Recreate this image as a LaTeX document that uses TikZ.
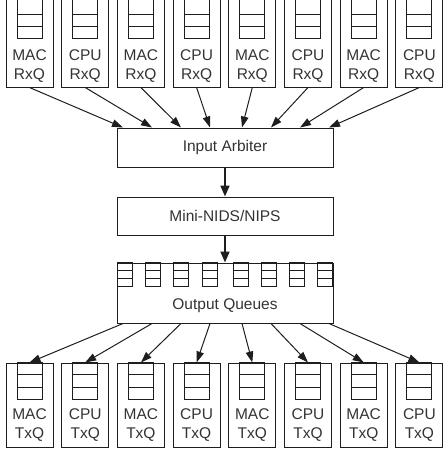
\documentclass[tikz,border=0pt]{standalone}
\usepackage{fontspec}
\setmainfont{Liberation Sans}
\usepackage{tikz}
\usetikzlibrary{calc,arrows.meta}
\definecolor{ink}{HTML}{1E1E1E}
\definecolor{txt}{HTML}{333333}
\tikzset{
  qBox/.style={draw=ink, line width=1pt, minimum width=47pt, inner sep=0pt},
  blkBox/.style={draw=ink, line width=1pt, minimum width=216pt, inner sep=0pt,
    text=txt, font=\fontsize{15.5}{19}\selectfont},
  qLbl/.style={text=txt, font=\fontsize{15.5}{19}\selectfont, align=center, inner sep=0pt},
  cellLine/.style={draw=ink, line width=1pt},
  fanArrow/.style={draw=ink, line width=1pt, -{Triangle[length=11pt,width=7.5pt]}},
  mainArrow/.style={draw=ink, line width=1.8pt, -{Triangle[length=11pt,width=9pt]}},
}

\begin{document}
\begin{tikzpicture}[x=1pt, y=1pt]
  \useasboundingbox (0,0) rectangle (443,-451);

  % receive queues along the top
  \foreach \k/\src in {0/MAC,1/CPU,2/MAC,3/CPU,4/MAC,5/CPU,6/MAC,7/CPU}{
    \node[qBox, minimum height=88pt] (rx\k) at (29.5+55.7*\k,-43) {};
    \draw[cellLine] ($(rx\k.north)+(-12.5,0)$) rectangle ($(rx\k.north)+(12.5,-40)$);
    \draw[cellLine] ($(rx\k.north)+(-12.5,-16)$) -- ++(25,0);
    \draw[cellLine] ($(rx\k.north)+(-12.5,-28)$) -- ++(25,0);
    \node[qLbl] (rxl\k) at ($(rx\k.north)+(0,-68)$) {\src\\RxQ};
  }

  \node[blkBox, minimum height=39pt] (arb)  at (225,-147.5) {Input Arbiter};
  \node[blkBox, minimum height=38pt] (nids) at (225,-216)   {Mini-NIDS/NIPS};
  \node[blkBox, minimum height=60pt] (outq) at (225,-293)   {};
  \node[qLbl] (outl) at ($(outq.south)+(0,18)$) {Output Queues};

  % small queues inside the output block
  \foreach \dx in {-100,-72,-44,-15.5,15.5,44,72,100}{
    \draw[cellLine] ($(outq.north)+(\dx-7.5,0)$) rectangle ($(outq.north)+(\dx+7.5,-24)$);
    \draw[cellLine] ($(outq.north)+(\dx-7.5,-8)$) -- ++(15,0);
    \draw[cellLine] ($(outq.north)+(\dx-7.5,-16)$) -- ++(15,0);
  }

  % transmit queues along the bottom
  \foreach \k/\dst in {0/MAC,1/CPU,2/MAC,3/CPU,4/MAC,5/CPU,6/MAC,7/CPU}{
    \node[qBox, minimum height=84pt] (tx\k) at (29.5+55.7*\k,-405) {};
    \draw[cellLine] ($(tx\k.north)+(-12.5,0)$) rectangle ($(tx\k.north)+(12.5,-37)$);
    \draw[cellLine] ($(tx\k.north)+(-12.5,-12)$) -- ++(25,0);
    \draw[cellLine] ($(tx\k.north)+(-12.5,-25)$) -- ++(25,0);
    \node[qLbl] (txl\k) at ($(tx\k.north)+(0,-63)$) {\dst\\TxQ};
  }

  % fan in and fan out
  \foreach \k/\dx in {0/-103,1/-74,2/-45,3/-16,4/16,5/45,6/74,7/103}{
    \coordinate (ain\k)  at ($(arb.north)+(1+\dx,0)$);
    \coordinate (oout\k) at ($(outq.south)+(1+\dx,0)$);
    \draw[fanArrow] (rx\k.south) -- (ain\k);
    \draw[fanArrow] (oout\k) -- (tx\k.north);
  }
  \draw[mainArrow] (arb) -- (nids);
  \draw[mainArrow] (nids) -- (outq);
\end{tikzpicture}
\end{document}
